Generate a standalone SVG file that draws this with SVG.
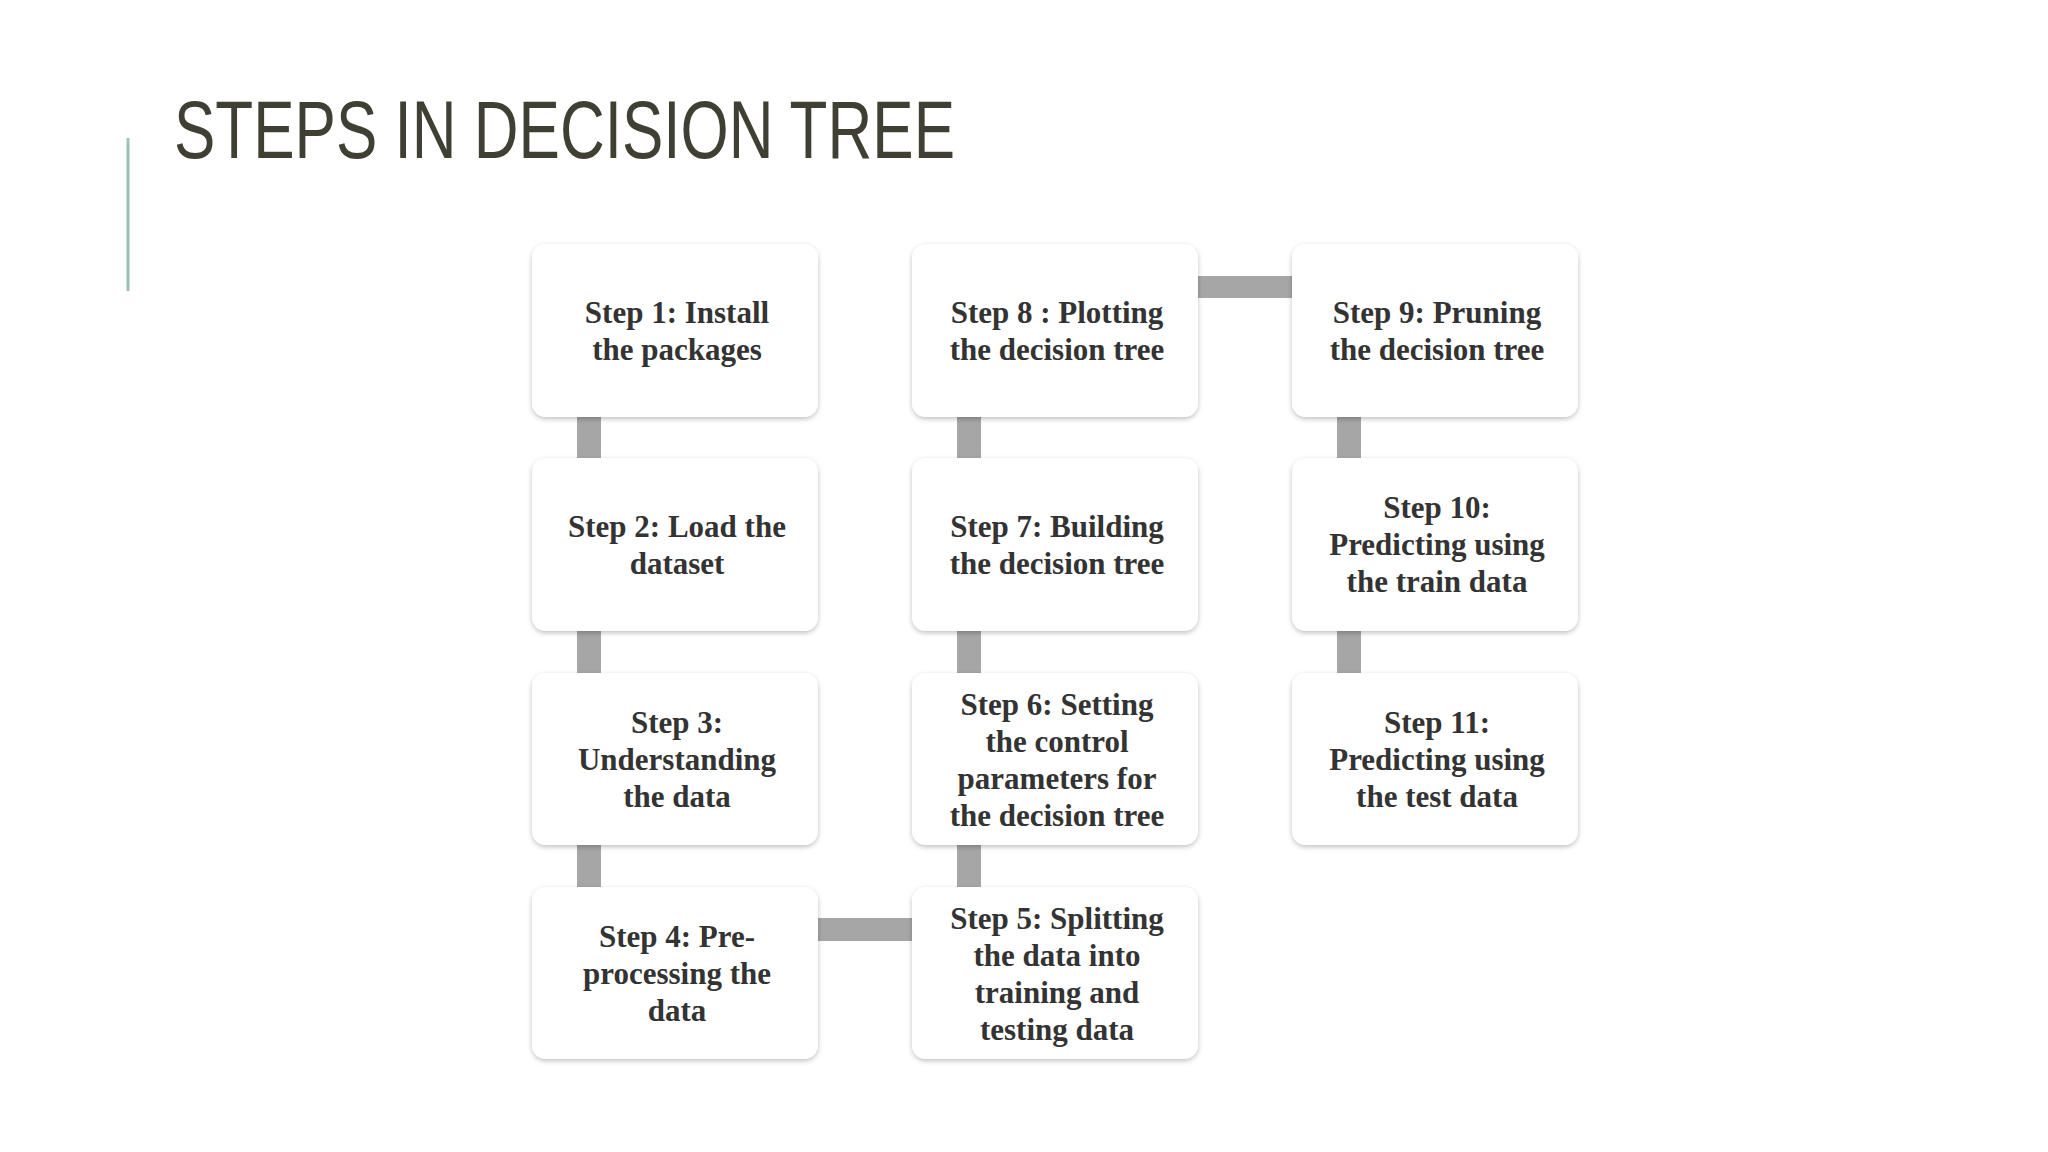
<svg xmlns="http://www.w3.org/2000/svg" width="2048" height="1152" viewBox="0 0 2048 1152">
<defs>
<filter id="sh" x="-10%" y="-10%" width="120%" height="130%"><feDropShadow dx="0" dy="2" stdDeviation="2.5" flood-color="#000" flood-opacity="0.25"/></filter>
</defs>
<style>
.b{fill:#fff;filter:url(#sh)}
.t{font-family:"Liberation Serif",serif;font-weight:bold;font-size:31px;fill:#333;text-anchor:middle}
.c{fill:#a6a6a6}
</style>
<rect width="2048" height="1152" fill="#fff"/>
<line x1="128" y1="138" x2="128" y2="291" stroke="#9dbfb8" stroke-width="3"/>
<text x="174" y="158" font-family="Liberation Sans,sans-serif" font-size="82" fill="#3f3f33" textLength="781" lengthAdjust="spacingAndGlyphs">STEPS IN DECISION TREE</text>
<g id="connectors">
<rect class="c" x="577" y="417" width="24" height="41"/>
<rect class="c" x="577" y="631" width="24" height="42"/>
<rect class="c" x="577" y="845" width="24" height="42"/>
<rect class="c" x="818" y="918" width="94" height="23"/>
<rect class="c" x="957" y="845" width="24" height="42"/>
<rect class="c" x="957" y="631" width="24" height="42"/>
<rect class="c" x="957" y="417" width="24" height="41"/>
<rect class="c" x="1198" y="276" width="94" height="22"/>
<rect class="c" x="1337" y="417" width="24" height="41"/>
<rect class="c" x="1337" y="631" width="24" height="42"/>
</g>
<g id="s1"><rect class="b" x="532" y="244" width="286" height="173" rx="14"/><text class="t" x="677"><tspan x="677" y="323">Step 1: Install</tspan><tspan x="677" y="360">the packages</tspan></text></g>
<g id="s2"><rect class="b" x="532" y="458" width="286" height="173" rx="14"/><text class="t"><tspan x="677" y="537">Step 2: Load the</tspan><tspan x="677" y="574">dataset</tspan></text></g>
<g id="s3"><rect class="b" x="532" y="673" width="286" height="172" rx="14"/><text class="t"><tspan x="677" y="733">Step 3:</tspan><tspan x="677" y="770">Understanding</tspan><tspan x="677" y="807">the data</tspan></text></g>
<g id="s4"><rect class="b" x="532" y="887" width="286" height="172" rx="14"/><text class="t"><tspan x="677" y="947">Step 4: Pre-</tspan><tspan x="677" y="984">processing the</tspan><tspan x="677" y="1021">data</tspan></text></g>
<g id="s5"><rect class="b" x="912" y="887" width="286" height="172" rx="14"/><text class="t"><tspan x="1057" y="929">Step 5: Splitting</tspan><tspan x="1057" y="966">the data into</tspan><tspan x="1057" y="1003">training and</tspan><tspan x="1057" y="1040">testing data</tspan></text></g>
<g id="s6"><rect class="b" x="912" y="673" width="286" height="172" rx="14"/><text class="t"><tspan x="1057" y="715">Step 6: Setting</tspan><tspan x="1057" y="752">the control</tspan><tspan x="1057" y="789">parameters for</tspan><tspan x="1057" y="826">the decision tree</tspan></text></g>
<g id="s7"><rect class="b" x="912" y="458" width="286" height="173" rx="14"/><text class="t"><tspan x="1057" y="537">Step 7: Building</tspan><tspan x="1057" y="574">the decision tree</tspan></text></g>
<g id="s8"><rect class="b" x="912" y="244" width="286" height="173" rx="14"/><text class="t"><tspan x="1057" y="323">Step 8 : Plotting</tspan><tspan x="1057" y="360">the decision tree</tspan></text></g>
<g id="s9"><rect class="b" x="1292" y="244" width="286" height="173" rx="14"/><text class="t"><tspan x="1437" y="323">Step 9: Pruning</tspan><tspan x="1437" y="360">the decision tree</tspan></text></g>
<g id="s10"><rect class="b" x="1292" y="458" width="286" height="173" rx="14"/><text class="t"><tspan x="1437" y="518">Step 10:</tspan><tspan x="1437" y="555">Predicting using</tspan><tspan x="1437" y="592">the train data</tspan></text></g>
<g id="s11"><rect class="b" x="1292" y="673" width="286" height="172" rx="14"/><text class="t"><tspan x="1437" y="733">Step 11:</tspan><tspan x="1437" y="770">Predicting using</tspan><tspan x="1437" y="807">the test data</tspan></text></g>
</svg>
